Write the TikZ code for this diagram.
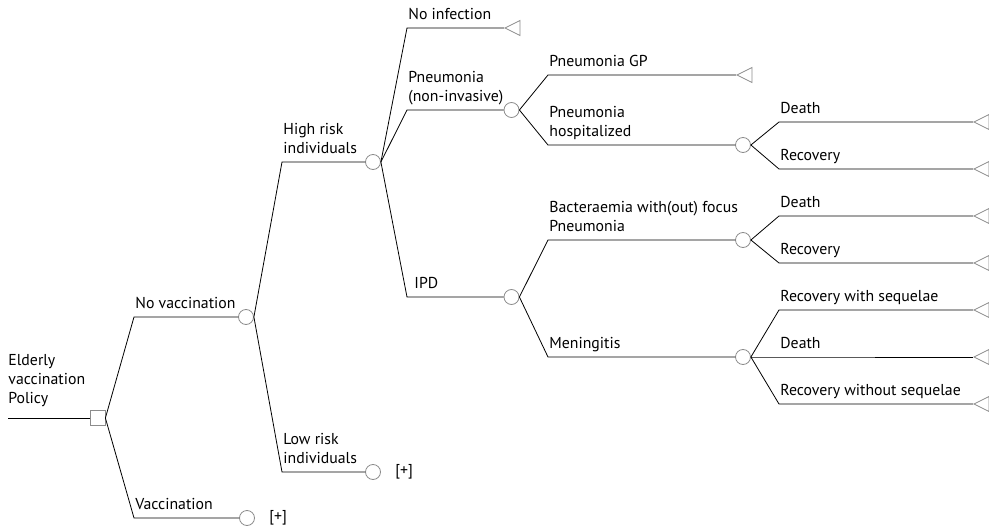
\documentclass[tikz,border=0pt]{standalone}
\usepackage{fontspec}
\setmainfont{PT Sans}
\usetikzlibrary{shapes.geometric,positioning}
\begin{document}
\begin{tikzpicture}[x=1pt, y=-1pt, line width=0.8pt,
  chance/.style={circle, draw=black!45, minimum size=15pt, inner sep=0pt},
  decision/.style={rectangle, draw=black!45, minimum size=15pt, inner sep=0pt},
  endnode/.style={isosceles triangle, shape border rotate=180, isosceles triangle stretches,
    draw=black!45, minimum width=15pt, minimum height=15pt, inner sep=0pt, anchor=apex},
  lab/.style={anchor=south west, inner sep=0pt, text depth=0pt, yshift=8pt, xshift=1pt,
    align=left, font=\fontsize{15.8}{19}\selectfont},
  plus/.style={inner sep=0pt, font=\fontsize{15.8}{19}\selectfont}]
\useasboundingbox (0,0) rectangle (989,530);
% nodes of the tree
\coordinate (start) at (8,418);
\node[decision] (root) at (97.5,418) {};
\node[chance] (nov) at (246,317) {};
\node[chance] (vac) at (247,518) {};
\node[plus, right=14pt of vac] (vacplus) {[+]};
\node[chance] (high) at (373,162) {};
\node[chance] (low) at (373,472) {};
\node[plus, right=14pt of low] (lowplus) {[+]};
\node[chance] (pneu) at (511.5,110) {};
\node[chance] (ipd) at (511.5,297) {};
\node[chance] (hosp) at (743,145) {};
\node[chance] (bact) at (743,240) {};
\node[chance] (men) at (743,357) {};
\node[endnode] (noinf) at (504,28) {};
\node[endnode] (gp) at (736,75) {};
\node[endnode] (hospdeath) at (973,122) {};
\node[endnode] (hosprec) at (973,169) {};
\node[endnode] (bactdeath) at (973,216) {};
\node[endnode] (bactrec) at (973,263) {};
\node[endnode] (menseq) at (973,310) {};
\node[endnode] (mendeath) at (973,357) {};
\node[endnode] (mennoseq) at (973,404) {};
% corners of the branches
\coordinate (cnov) at (134,317);
\coordinate (cvac) at (134,518);
\coordinate (chigh) at (282,162);
\coordinate (clow) at (282,472);
\coordinate (cnoinf) at (407,28);
\coordinate (cpneu) at (407,110);
\coordinate (cipd) at (407,297);
\coordinate (cgp) at (548,75);
\coordinate (chosp) at (548,145);
\coordinate (cbact) at (548,240);
\coordinate (cmen) at (548,357);
\coordinate (chd) at (779,122);
\coordinate (chr) at (779,169);
\coordinate (cbd) at (779,216);
\coordinate (cbr) at (779,263);
\coordinate (cms) at (779,310);
\coordinate (cmd) at (779,357);
\coordinate (cmn) at (779,404);
% branches
\node[lab, yshift=6pt, xshift=-1pt] at (start) {Elderly\\vaccination\\Policy};
\draw (start) -- (root.west);
\draw (root.east) -- (cnov) node[lab] {No vaccination} -- (nov.west);
\draw (root.east) -- (cvac) node[lab] {Vaccination} -- (vac.west);
\draw (nov.east) -- (chigh) node[lab] {High risk\\individuals} -- (high.west);
\draw (nov.east) -- (clow) node[lab] {Low risk\\individuals} -- (low.west);
\draw (high.east) -- (cnoinf) node[lab] {No infection} -- (noinf.apex);
\draw (high.east) -- (cpneu) node[lab] {Pneumonia\\(non-invasive)} -- (pneu.west);
\draw (high.east) -- (cipd) node[lab, xshift=6pt] {IPD} -- (ipd.west);
\draw (pneu.east) -- (cgp) node[lab] {Pneumonia GP} -- (gp.apex);
\draw (pneu.east) -- (chosp) node[lab] {Pneumonia\\hospitalized} -- (hosp.west);
\draw (ipd.east) -- (cbact) node[lab] {Bacteraemia with(out) focus\\Pneumonia} -- (bact.west);
\draw (ipd.east) -- (cmen) node[lab] {Meningitis} -- (men.west);
\draw (hosp.east) -- (chd) node[lab] {Death} -- (hospdeath.apex);
\draw (hosp.east) -- (chr) node[lab] {Recovery} -- (hosprec.apex);
\draw (bact.east) -- (cbd) node[lab] {Death} -- (bactdeath.apex);
\draw (bact.east) -- (cbr) node[lab] {Recovery} -- (bactrec.apex);
\draw (men.east) -- (cms) node[lab] {Recovery with sequelae} -- (menseq.apex);
\draw (men.east |- cmd) -- (cmd) node[lab] {Death} -- (cmd -| mendeath.apex);
\draw (men.east) -- (cmn) node[lab] {Recovery without sequelae} -- (mennoseq.apex);
\end{tikzpicture}
\end{document}
